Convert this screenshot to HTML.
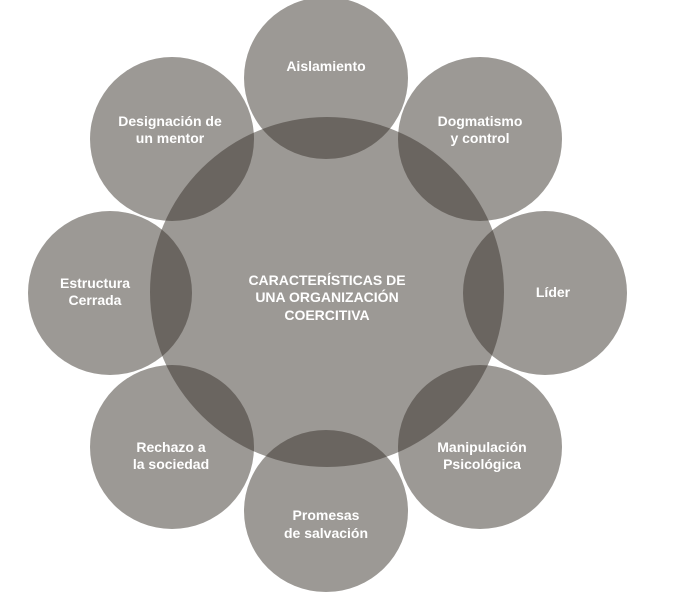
<!DOCTYPE html>
<html><head><meta charset="utf-8"><style>
html,body{margin:0;padding:0;background:#fff;}
svg{display:block}
text{font-family:"Liberation Sans",sans-serif;font-weight:bold;fill:#fff;font-size:14px;text-anchor:middle}
</style></head><body>
<svg width="686" height="616" viewBox="0 0 686 616">
<defs>
<clipPath id="c"><ellipse cx="327" cy="292" rx="177" ry="175"/></clipPath>
<g id="o">
<ellipse cx="326" cy="78" rx="82" ry="81"/>
<ellipse cx="480" cy="139" rx="82" ry="82"/>
<ellipse cx="545" cy="293" rx="82" ry="82"/>
<ellipse cx="480" cy="447" rx="82" ry="82"/>
<ellipse cx="326" cy="511" rx="82" ry="81"/>
<ellipse cx="172" cy="447" rx="82" ry="82"/>
<ellipse cx="110" cy="293" rx="82" ry="82"/>
<ellipse cx="172" cy="139" rx="82" ry="82"/>
</g>
</defs>
<g fill="#9c9995">
<use href="#o"/>
<ellipse cx="327" cy="292" rx="177" ry="175"/>
</g>
<g fill="#6a6560" clip-path="url(#c)"><use href="#o"/></g>
<text x="326" y="71">Aislamiento</text>
<text x="480" y="126">Dogmatismo</text>
<text x="480" y="143">y control</text>
<text x="553" y="297">Líder</text>
<text x="482" y="452">Manipulación</text>
<text x="482" y="469">Psicológica</text>
<text x="326" y="520">Promesas</text>
<text x="326" y="538">de salvación</text>
<text x="171" y="452">Rechazo a</text>
<text x="171" y="469">la sociedad</text>
<text x="95" y="288">Estructura</text>
<text x="95" y="305">Cerrada</text>
<text x="170" y="126">Designación de</text>
<text x="170" y="143">un mentor</text>
<text x="327" y="285">CARACTERÍSTICAS DE</text>
<text x="327" y="302">UNA ORGANIZACIÓN</text>
<text x="327" y="320">COERCITIVA</text>
</svg>
</body></html>
